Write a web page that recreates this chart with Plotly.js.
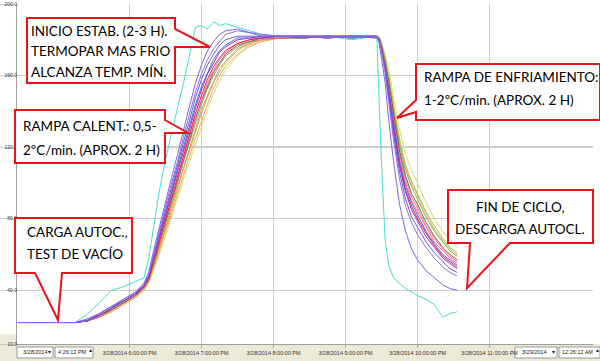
<!DOCTYPE html>
<html><head><meta charset="utf-8">
<script src="https://cdn.plot.ly/plotly-3.0.1.min.js"></script>
<style>html,body{margin:0;padding:0;background:#fff}#chart{width:600px;height:361px}</style>
</head><body><div id="chart"></div>
<script>
// ---- data ----
const times = ["2014-03-28 16:27","2014-03-28 16:50","2014-03-28 17:15","2014-03-28 17:25","2014-03-28 17:35","2014-03-28 17:45","2014-03-28 17:55","2014-03-28 18:05",
"2014-03-28 18:12","2014-03-28 18:16","2014-03-28 18:20","2014-03-28 18:25","2014-03-28 18:30","2014-03-28 18:35","2014-03-28 18:40","2014-03-28 18:45","2014-03-28 18:50","2014-03-28 18:55","2014-03-28 19:00","2014-03-28 19:05","2014-03-28 19:10","2014-03-28 19:15","2014-03-28 19:20","2014-03-28 19:30","2014-03-28 19:40","2014-03-28 19:50","2014-03-28 20:05",
"2014-03-28 20:25","2014-03-28 20:45","2014-03-28 21:05","2014-03-28 21:26",
"2014-03-28 21:28","2014-03-28 21:30","2014-03-28 21:33","2014-03-28 21:36","2014-03-28 21:40","2014-03-28 21:45","2014-03-28 21:50","2014-03-28 21:55","2014-03-28 22:00","2014-03-28 22:07","2014-03-28 22:14","2014-03-28 22:21","2014-03-28 22:27","2014-03-28 22:33"];

const tc01 = [22,22,22,27,33,40,42,45, 47,58,75,96,113,128,142,156,172,187,188,186,190,188,189,187,185,183,182, 181,182,180,182, 145,110,68,54,47,44,41,39,37,35,32,25,27,28];
const tc02 = [22,22,22,24,27,31,35,39, 44,50,62,76,90,103,116,130,143,156,166,174,179,183,185,186,184,183,182, 182,181,182,182, 178,170,156,135,112,88,73,63,57,51,47,43,41,40];
const tc03 = [22,22,22,24,27,31,35,39, 43,49,60,74,87,100,112,126,138,151,161,169,175,179,183,185,184,182,182, 182,182,181,182, 179,173,161,145,124,102,87,78,71,64,58,53,50,48];
const tc04 = [22,22,22,23,27,31,34,38, 43,48,59,72,85,98,110,123,135,148,158,166,172,177,180,182,182,182,182, 181,182,182,181, 180,174,163,147,127,106,91,81,75,67,61,56,52,50];
const tc05 = [22,22,22,23,26,30,34,38, 43,48,58,70,83,95,108,120,132,144,154,162,169,174,177,181,181,182,182, 182,182,181,182, 180,175,165,152,133,112,98,89,82,73,66,60,57,54];
const tc06 = [22,22,22,23,26,30,34,38, 42,48,58,70,82,94,106,119,131,142,152,161,167,173,176,180,181,181,182, 182,181,182,182, 180,175,164,150,130,109,95,85,79,70,64,58,55,52];
const tc07 = [22,22,22,23,26,30,34,38, 42,47,56,68,80,92,104,116,128,139,149,158,165,170,174,178,180,181,182, 182,182,182,182, 180,175,165,151,131,111,96,87,80,72,65,59,56,53];
const tc08 = [22,22,22,23,26,30,34,38, 42,47,56,67,79,91,103,115,126,137,147,156,163,169,173,178,180,181,181, 182,181,182,182, 180,176,166,153,134,114,100,90,84,75,67,62,58,55];
const tc09 = [22,22,22,23,26,29,33,37, 42,46,55,66,78,90,102,113,124,136,146,154,162,167,172,177,179,181,181, 181,182,182,181, 181,176,167,156,138,118,104,94,88,78,70,64,60,57];
const tc10 = [22,22,22,23,25,29,33,37, 41,46,55,66,77,89,100,112,123,134,144,153,160,166,171,176,179,180,181, 182,182,181,182, 181,177,169,158,140,121,107,98,91,81,73,67,62,59];
const tc11 = [22,22,22,23,25,29,33,37, 41,46,54,64,75,87,98,109,120,131,141,149,157,164,168,175,178,180,181, 182,181,182,182, 181,176,167,154,136,116,102,92,86,76,69,63,59,56];
const tc12 = [22,22,22,23,25,29,33,37, 41,45,53,63,74,85,97,108,118,129,139,148,156,162,167,174,178,180,181, 181,182,182,182, 181,178,170,160,143,125,110,101,94,84,76,69,64,61];
const tc13 = [22,22,22,23,25,28,32,36, 40,45,52,62,72,83,94,105,115,125,135,144,153,160,165,172,177,179,181, 182,182,181,182, 181,177,169,159,142,123,109,100,93,83,74,68,63,60];
const tc14 = [22,22,22,23,25,28,32,36, 40,44,51,60,70,81,92,102,112,122,132,141,150,157,163,171,176,179,181, 182,182,182,182, 182,179,172,164,148,130,116,107,100,89,80,73,68,64];

// drawing order: slow/light series first so the mixed colours stay visible on top
const seriesList   = [tc14,tc13,tc12,tc01,tc10,tc11,tc09,tc08,tc07,tc05,tc06,tc04,tc03,tc02];
const seriesColors = ["#DCDC70","#F4A460","#A8D040","#40E0D0","#5FBF6F","#FA8072","#A0522D","#FF69B4","#E8202A","#4169E1","#9932CC","#6A5ACD","#9370DB","#7B68EE"];

const xTickVals = ["2014-03-28 18:00:00","2014-03-28 19:00:00","2014-03-28 20:00:00","2014-03-28 21:00:00","2014-03-28 22:00:00","2014-03-28 23:00:00"];
const xTickText = ["3/28/2014 6:00:00 PM","3/28/2014 7:00:00 PM","3/28/2014 8:00:00 PM","3/28/2014 9:00:00 PM","3/28/2014 10:00:00 PM","3/28/2014 11:00:00 PM"];
const yTickVals = [10,40,80,120,160,200];
const yTickText = ["10.0","40.0","80.0","120.0","160.0","200.0"];

// ---- layout helpers (pixel -> paper) ----
const L=17, R=7, T=4, B=17, PW=600-L-R, PH=361-T-B;
const px = x => (x-L)/PW;
const py = y => (361-B-y)/PH;
const pathOf = pts => "M" + pts.map(p => px(p[0]).toFixed(4)+","+py(p[1]).toFixed(4)).join(" L") + " Z";

const callouts = [
  [[27,18],[175,18],[175,29],[210,47],[175,47],[175,83],[27,83]],
  [[15,110],[165,110],[165,120],[188,133],[165,133],[165,163],[15,163]],
  [[15,218],[132,218],[132,273],[62,273],[58,320],[35,273],[15,273]],
  [[416,64],[600,64],[600,120],[416,120],[416,112],[397,118],[416,100]],
  [[448,190],[593,190],[593,243],[510,243],[467,288],[470,243],[448,243]]
];
const textLines = [
  ["INICIO ESTAB. (2-3 H).",29,31,"left"],
  ["TERMOPAR MAS FRIO",29,51,"left"],
  ["ALCANZA TEMP. MÍN.",29,72,"left"],
  ["RAMPA CALENT.: 0,5-",21,126,"left"],
  ["2ºC/min. (APROX. 2 H)",21,150,"left"],
  ["CARGA AUTOC.,",25,232,"left"],
  ["TEST DE VACÍO",25,254,"left"],
  ["RAMPA DE ENFRIAMIENTO:",422,77,"left"],
  ["1-2ºC/min. (APROX. 2 H)",422,100,"left"],
  ["FIN DE CICLO,",520,207,"center"],
  ["DESCARGA AUTOCL.",520,229,"center"]
];

const shapes = [
  {type:"rect",xref:"paper",yref:"paper",x0:px(0),x1:px(600),y0:py(361),y1:py(344),fillcolor:"#ECE9D8",line:{width:0},layer:"below"},
  {type:"rect",xref:"paper",yref:"paper",x0:px(0),x1:px(16),y0:py(344),y1:py(334),fillcolor:"#ECE9D8",line:{width:0},layer:"below"},
  {type:"rect",xref:"paper",yref:"paper",x0:px(17),x1:px(53),y0:py(358),y1:py(347),fillcolor:"#fff",line:{width:1,color:"#9a9a9a"},layer:"below"},
  {type:"rect",xref:"paper",yref:"paper",x0:px(55),x1:px(93),y0:py(358),y1:py(347),fillcolor:"#fff",line:{width:1,color:"#9a9a9a"},layer:"below"},
  {type:"rect",xref:"paper",yref:"paper",x0:px(515),x1:px(557),y0:py(358),y1:py(347),fillcolor:"#fff",line:{width:1,color:"#9a9a9a"},layer:"below"},
  {type:"rect",xref:"paper",yref:"paper",x0:px(559),x1:px(600),y0:py(358),y1:py(347),fillcolor:"#fff",line:{width:1,color:"#9a9a9a"},layer:"below"}
];
callouts.forEach(c => shapes.push({type:"path",xref:"paper",yref:"paper",path:pathOf(c),fillcolor:"#ffffff",line:{color:"#E8141B",width:2},layer:"above"}));

const annotations = textLines.map(t => ({xref:"paper",yref:"paper",x:px(t[1]),y:py(t[2]),text:t[0],showarrow:false,xanchor:t[3],yanchor:"middle",font:{family:"Lato, Open Sans, sans-serif",size:13.5,color:"#000"}}));
const pick = [["3/28/2014",35,352.5],["▾",49,352.5],["4:26:12 PM",72,352.5],["▴",90,350],["3/29/2014",534,352.5],["▾",553,352.5],["12:26:12 AM",577,352.5],["▴",597,350]];
pick.forEach(p => annotations.push({xref:"paper",yref:"paper",x:px(p[1]),y:py(p[2]),text:p[0],showarrow:false,xanchor:"center",yanchor:"middle",font:{family:"Liberation Sans, sans-serif",size:5.5,color:"#222"}}));

const traces = seriesList.map((s,i) => ({x:times,y:s,type:"scatter",mode:"lines",line:{color:seriesColors[i],width:1},hoverinfo:"skip",showlegend:false}));

const layout = {
  width:600,height:361,
  margin:{l:L,r:R,t:T,b:B,pad:0},
  paper_bgcolor:"#fff",plot_bgcolor:"#fff",
  showlegend:false,
  xaxis:{type:"date",range:["2014-03-28 16:26:12","2014-03-29 00:26:12"],tickvals:xTickVals,ticktext:xTickText,
    showgrid:true,gridcolor:"#cdcdcd",gridwidth:1.5,ticks:"outside",ticklen:3,tickcolor:"#aaa",
    showline:true,linecolor:"#a0a0a0",linewidth:1,zeroline:false,
    tickfont:{family:"Liberation Sans, sans-serif",size:5.5,color:"#333"}},
  yaxis:{range:[10,200],tickvals:yTickVals,ticktext:yTickText,showgrid:true,gridcolor:"#cdcdcd",gridwidth:1.5,
    ticks:"outside",ticklen:17,tickcolor:"#cdcdcd",ticklabelstandoff:-19,
    showline:true,linecolor:"#a0a0a0",linewidth:1,zeroline:false,
    tickfont:{family:"Liberation Sans, sans-serif",size:5,color:"#333"}},
  shapes:shapes,
  annotations:annotations
};
Plotly.newPlot("chart",traces,layout,{staticPlot:true,displayModeBar:false});
</script></body></html>
